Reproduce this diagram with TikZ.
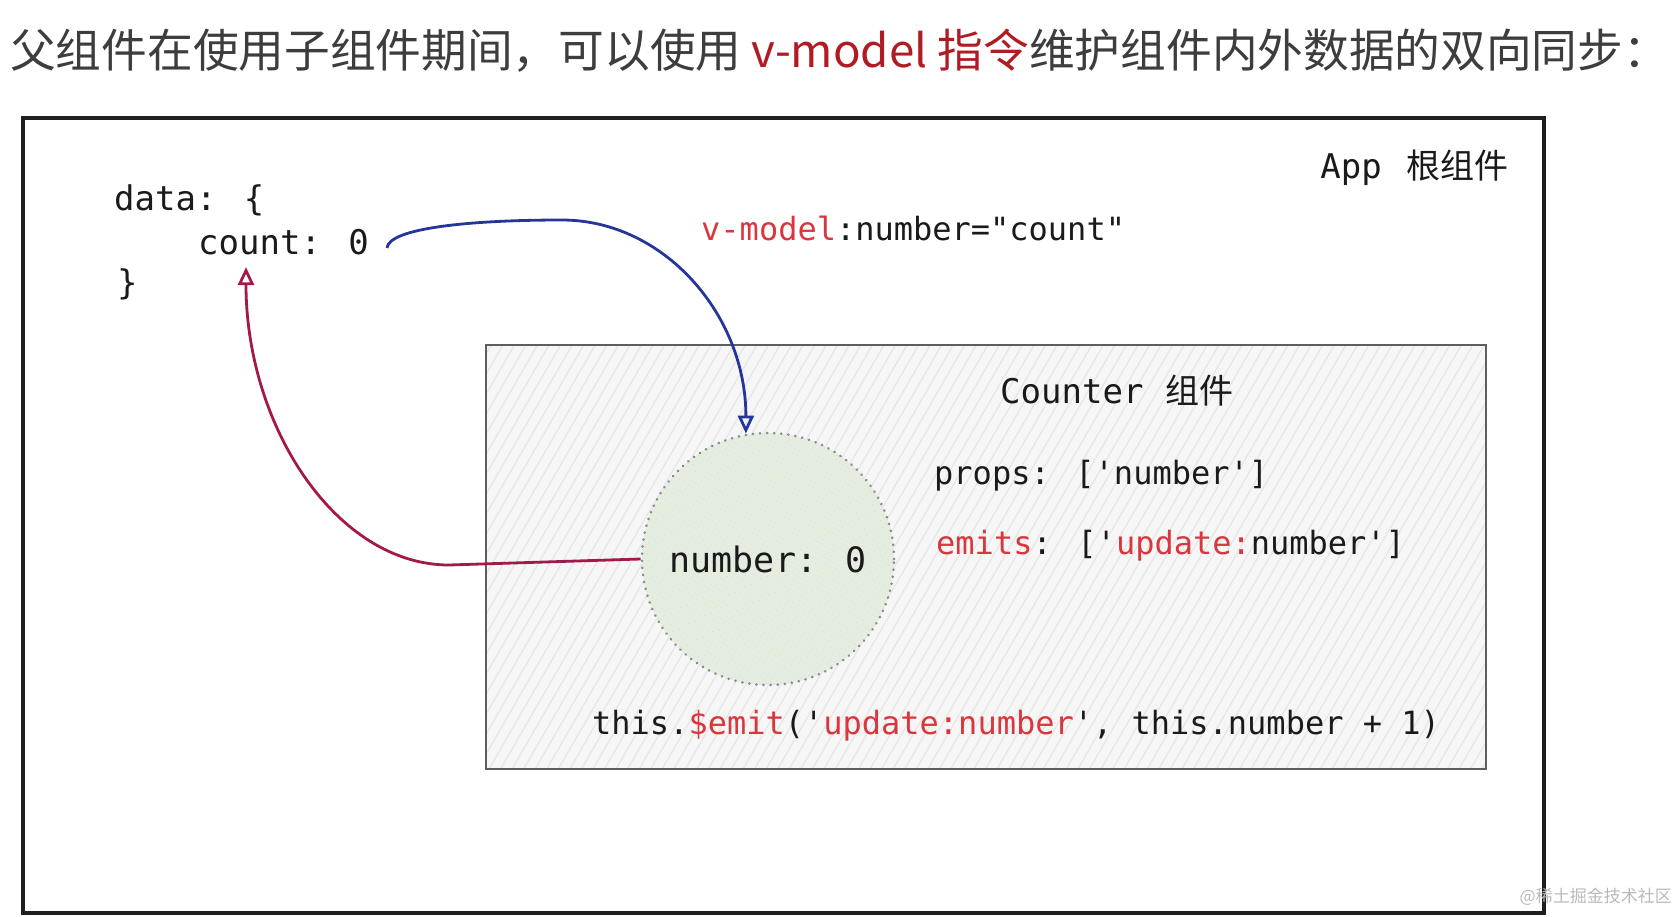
\documentclass[tikz,border=0pt]{standalone}
\usepackage{fontspec}
\setmainfont{Noto Sans CJK SC}
\newfontfamily\codefont[Ligatures=TeXOff]{DejaVu Sans Mono}
\usepackage{xcolor}
\usepackage{tikz}
\usetikzlibrary{arrows.meta, patterns.meta, positioning}
\definecolor{titlegray}{HTML}{3D3D3D}
\definecolor{titlered}{HTML}{B01C24}
\definecolor{codered}{HTML}{D9363E}
\definecolor{codetext}{HTML}{1A1A1A}
\definecolor{modelblue}{HTML}{26359A}
\definecolor{emitred}{HTML}{A3194B}
\definecolor{boxline}{HTML}{5E5E5E}
\definecolor{boxfill}{HTML}{F6F6F6}
\definecolor{boxhatch}{HTML}{E4E4E4}
\definecolor{circfill}{HTML}{E5EDE1}
\definecolor{circhatch}{HTML}{CCDAC6}
\definecolor{circline}{HTML}{8A8A8A}

\begin{document}
\begin{tikzpicture}[x=1pt, y=1pt, >={Triangle[open,length=18pt,width=16pt]},
    code/.style={font=\codefont\fontsize{32}{38}\selectfont, text=codetext, inner sep=0pt, anchor=west},
    bigcode/.style={code, font=\codefont\fontsize{34}{40}\selectfont},
    appbox/.style={draw=black!88, line width=3.2pt},
    counterbox/.style={preaction={fill=boxfill}, pattern={Lines[angle=60,distance=10pt,line width=1pt]}, pattern color=boxhatch, draw=boxline, line width=2.8pt},
    numcircle/.style={circle, minimum size=252pt, inner sep=0pt, preaction={fill=circfill}, pattern={Lines[angle=60,distance=5pt,line width=1pt]}, pattern color=circhatch, draw=circline, line width=2.8pt, dash pattern=on 0.1pt off 7pt, line cap=round, font=\codefont\fontsize{35}{40}\selectfont, text=codetext},
    modelarrow/.style={draw=modelblue, line width=2.8pt, ->},
    emitarrow/.style={draw=emitred, line width=2.8pt, ->}]
    \useasboundingbox (0,0) rectangle (1678,-916);
    \node[anchor=west, inner sep=0pt, text=titlegray, font=\fontsize{45.7}{52}\selectfont] (title) at (10,-51) {父组件在使用子组件期间，可以使用 \textcolor{titlered}{v-model 指令}维护组件内外数据的双向同步：};
    \node[appbox, minimum width=1521pt, minimum height=795pt] (app) at (783.5,-515.5) {};
    \node[bigcode, anchor=east] (applabel) at (1509,-168) {App\hspace{25pt}{\rmfamily 根组件}};
    \node[bigcode] (data) at (114,-200) {data: \{};
    \node[bigcode] (count) at (198,-242) {count: 0};
    \node[bigcode] (close) at (117,-284) {\}};
    \node[code] (vmodel) at (701,-228) {{\color{codered}v-model}:number="count"};
    \node[counterbox, minimum width=1000pt, minimum height=424pt] (counter) at (986,-557) {};
    \node[bigcode] (countertitle) at (1000,-391) {Counter\hspace{22pt}{\rmfamily 组件}};
    \node[numcircle] (num) at (768,-559) {number: 0};
    \node[code] (props) at (934,-476) {props: ['number']};
    \node[code] (emits) at (936,-546) {{\color{codered}emits}: ['{\color{codered}update:}number']};
    \node[code] (emitcall) at (592,-726) {this.{\color{codered}\$emit}('{\color{codered}update:number}', this.number + 1)};
    \node[anchor=east, inner sep=0pt, text=gray!55, font=\fontsize{17}{20}\selectfont] (mark) at (1672,-897) {@稀土掘金技术社区};
    \coordinate (bluetop) at (562,-220);
    \coordinate (redknee) at (449,-565);
    \coordinate (redtip) at ([xshift=48pt,yshift=-12pt]count.south west);
    \draw[modelarrow] ([xshift=18pt,yshift=-6pt]count.east) .. controls +(2,20) and (470,-220) .. (bluetop) .. controls (664,-220) and (746,-315) .. (num.100);
    \draw[emitarrow] (num.west) -- (redknee) .. controls (337,-565) and ([yshift=-160pt]redtip) .. (redtip);
\end{tikzpicture}
\end{document}
